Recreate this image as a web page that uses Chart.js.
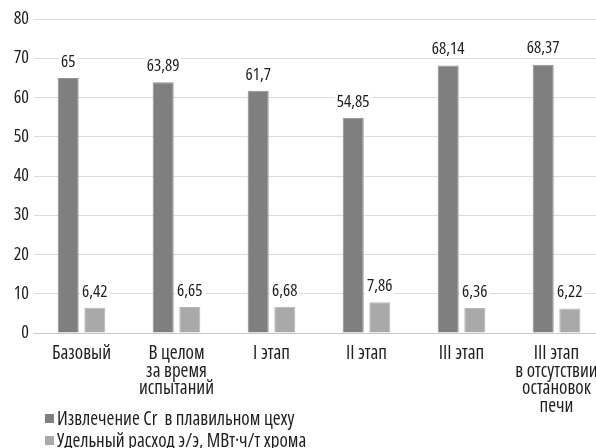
<!DOCTYPE html>
<html>
<head>
<meta charset="utf-8">
<script src="https://cdn.jsdelivr.net/npm/chart.js@4/dist/chart.umd.min.js"></script>
<style>
  html, body { margin: 0; padding: 0; background: #fff; overflow: hidden; width: 596px; height: 448px; }
  #wrap { position: relative; width: 604px; height: 448px; }
  #legend { position: absolute; left: 45px; top: 407px; font-family: "Open Sans", sans-serif; font-stretch: condensed; font-size: 19px; color: #1e1e1e; line-height: 22px; }
  #legend .it { display: flex; align-items: center; white-space: pre; }
  #legend .sw { width: 9px; height: 9px; margin-right: 3px; flex: none; }
</style>
</head>
<body>
<div id="wrap">
  <canvas id="c" width="604" height="448"></canvas>
  <div id="legend"></div>
</div>
<script>
const categories = [
  "Базовый",
  ["В целом", "за время", "испытаний"],
  "I этап",
  "II этап",
  "III этап",
  ["III этап", "в отсутствии", "остановок", "печи"]
];
const seriesNames = ["Извлечение Cr  в плавильном цеху", "Удельный расход э/э, МВт·ч/т хрома"];
const extraction = [65, 63.89, 61.7, 54.85, 68.14, 68.37];
const energy = [6.42, 6.65, 6.68, 7.86, 6.36, 6.22];
const yTicks = [0, 10, 20, 30, 40, 50, 60, 70, 80];
const colors = ["#7f7f7f", "#a9a9a9"];

const FONT = '"Open Sans", sans-serif';
const VSIZE = 17;

const labelPlugin = {
  id: 'valueLabels',
  afterDatasetsDraw(chart) {
    const ctx = chart.ctx;
    ctx.save();
    ctx.font = 'condensed ' + VSIZE + 'px ' + FONT;
    ctx.textAlign = 'center';
    ctx.textBaseline = 'middle';
    chart.data.datasets.forEach((ds, di) => {
      const meta = chart.getDatasetMeta(di);
      meta.data.forEach((bar, i) => {
        const txt = String(ds.data[i]).replace('.', ',');
        const y = bar.y - 16;
        const w = ctx.measureText(txt).width + 4;
        ctx.fillStyle = '#fff';
        ctx.fillRect(bar.x - w / 2, y - 8, w, 16);
        ctx.fillStyle = '#1e1e1e';
        ctx.fillText(txt, bar.x, y);
      });
    });
    ctx.restore();
  }
};

// "condensed" passed through the weight slot so the canvas font string selects the condensed face
const xFont = { family: FONT, size: 19, weight: 'condensed', lineHeight: 0.92 };
const yFont = { family: FONT, size: 18, weight: 'condensed', lineHeight: 1.0 };

const chart = new Chart(document.getElementById('c'), {
  type: 'bar',
  data: {
    labels: categories,
    datasets: [
      { label: seriesNames[0], data: extraction, backgroundColor: colors[0], borderColor: '#8f8f8f', borderWidth: 1 },
      { label: seriesNames[1], data: energy, backgroundColor: colors[1], borderColor: '#b5b5b5', borderWidth: 1 }
    ]
  },
  options: {
    responsive: false,
    animation: false,
    devicePixelRatio: 1,
    layout: { padding: { top: 19, right: 0, left: 0, bottom: 0 } },
    datasets: { bar: { categoryPercentage: 0.56, barPercentage: 0.79 } },
    plugins: {
      legend: { display: false },
      tooltip: { enabled: false }
    },
    scales: {
      x: {
        grid: { display: false },
        border: { display: true, color: '#c8c8c8' },
        ticks: { color: '#1e1e1e', font: xFont, padding: 4, maxRotation: 0, autoSkip: false },
        afterFit(s) { s.height = 115; }
      },
      y: {
        min: 0, max: 80,
        afterBuildTicks(s) { s.ticks = yTicks.map(v => ({ value: v })); },
        grid: { color: '#dcdcdc', drawTicks: false, lineWidth: 1 },
        border: { display: false },
        ticks: { color: '#1e1e1e', font: yFont, padding: 5 },
        afterFit(s) { s.width = 34; }
      }
    }
  },
  plugins: [labelPlugin]
});

const lg = document.getElementById('legend');
chart.data.datasets.forEach(ds => {
  const d = document.createElement('div');
  d.className = 'it';
  const sw = document.createElement('span');
  sw.className = 'sw';
  sw.style.background = ds.backgroundColor;
  const t = document.createElement('span');
  t.textContent = ds.label;
  d.appendChild(sw); d.appendChild(t);
  lg.appendChild(d);
});
</script>
</body>
</html>
